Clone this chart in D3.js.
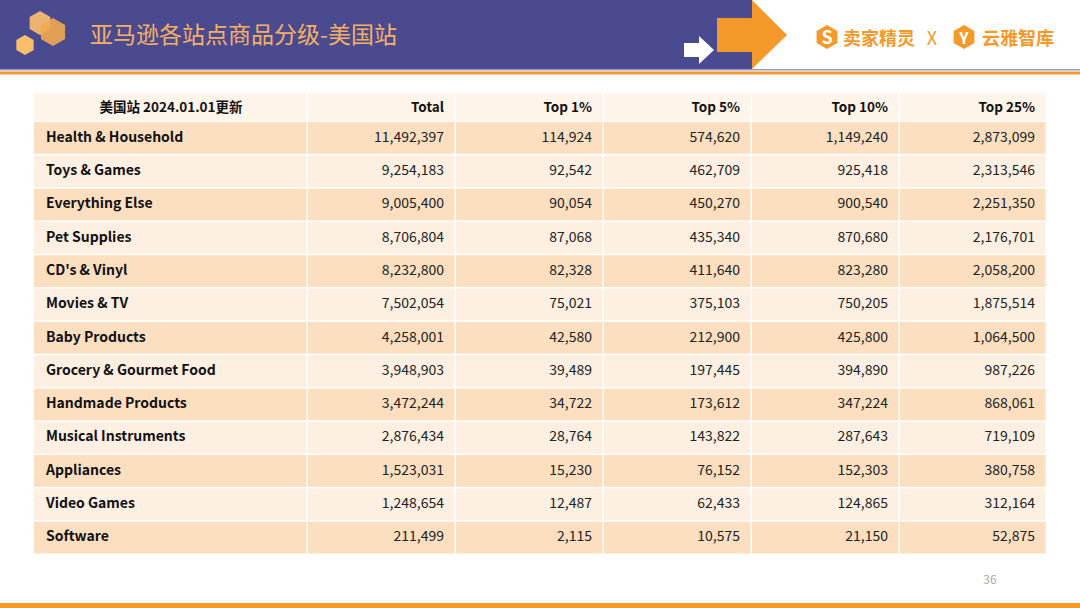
<!DOCTYPE html>
<html><head><meta charset="utf-8">
<script src="https://cdn.jsdelivr.net/npm/d3@7"></script>
<style>body{margin:0;background:#fff}svg{display:block;font-family:"Noto Sans CJK SC","Noto Sans",sans-serif}</style>
</head><body><svg id="c" width="1080" height="608"></svg>
<script>
const title = "亚马逊各站点商品分级-美国站";
const headers = ["美国站 2024.01.01更新","Total","Top 1%","Top 5%","Top 10%","Top 25%"];
const categories = ["Health & Household","Toys & Games","Everything Else","Pet Supplies","CD's & Vinyl","Movies & TV","Baby Products","Grocery & Gourmet Food","Handmade Products","Musical Instruments","Appliances","Video Games","Software"];
const total = [11492397,9254183,9005400,8706804,8232800,7502054,4258001,3948903,3472244,2876434,1523031,1248654,211499];
const top1 = [114924,92542,90054,87068,82328,75021,42580,39489,34722,28764,15230,12487,2115];
const top5 = [574620,462709,450270,435340,411640,375103,212900,197445,173612,143822,76152,62433,10575];
const top10 = [1149240,925418,900540,870680,823280,750205,425800,394890,347224,287643,152303,124865,21150];
const top25 = [2873099,2313546,2251350,2176701,2058200,1875514,1064500,987226,868061,719109,380758,312164,52875];
const cols = [total, top1, top5, top10, top25];

const svg = d3.select("#c");
const purple = "#4a4a90", orange = "#f39a2b";
svg.append("rect").attr("x",0).attr("y",0).attr("width",752).attr("height",69).attr("fill",purple);
svg.append("path").attr("d","M717,18 L752,18 L752,0 L787,35 L752,69 L752,52 L717,52 Z").attr("fill",orange);
svg.append("path").attr("d","M684,43 L699,43 L699,36 L714,50 L699,64 L699,57 L684,57 Z").attr("fill","#fff");
svg.append("rect").attr("x",0).attr("y",69).attr("width",1080).attr("height",1.5).attr("fill","#9a9ad0");
svg.append("rect").attr("x",0).attr("y",71.5).attr("width",1080).attr("height",3).attr("fill",orange);
svg.append("rect").attr("x",0).attr("y",603).attr("width",1080).attr("height",5).attr("fill",orange);
function hex(cx,cy,r,fill,op){const p=d3.range(6).map(i=>{const a=Math.PI/3*i+Math.PI/6;return [cx+r*Math.cos(a),cy+r*Math.sin(a)];});
 svg.append("path").attr("d","M"+p.join("L")+"Z").attr("fill",fill).attr("opacity",op);}
hex(40,23,12,"#f6b870",0.95);hex(53,32,14,"#f2a94f",0.9);hex(25,45,10,"#fbbf6c",1);
svg.append("text").attr("x",90).attr("y",43).attr("fill","#f7b062").attr("font-size",23).text(title);
hex(827,37,12,orange,1);
svg.append("text").attr("x",827).attr("y",44).attr("text-anchor","middle").attr("fill","#fff").attr("font-size",18).attr("font-weight","bold").text("S");
svg.append("text").attr("x",843).attr("y",45).attr("fill",orange).attr("font-size",18).attr("font-weight","bold").text("卖家精灵");
svg.append("text").attr("x",932).attr("y",45).attr("text-anchor","middle").attr("fill",orange).attr("font-size",18).text("X");
hex(964,37,12,orange,1);
svg.append("text").attr("x",964).attr("y",44).attr("text-anchor","middle").attr("fill","#fff").attr("font-size",16).attr("font-weight","bold").text("Y");
svg.append("text").attr("x",982).attr("y",45).attr("fill",orange).attr("font-size",18).attr("font-weight","bold").text("云雅智库");
const colX = [34,308,456,604,752,900,1047];
const y = d3.scaleBand().domain(d3.range(categories.length)).range([122,555]);
const fmt = d3.format(",");
for(let c=0;c<6;c++){
  svg.append("rect").attr("x",colX[c]).attr("y",93).attr("width",colX[c+1]-colX[c]-1.5).attr("height",28).attr("fill","#fdf4ea");
  svg.append("text").attr("x",c===0?(colX[0]+colX[1])/2:colX[c+1]-12).attr("y",112).attr("text-anchor",c===0?"middle":"end")
    .attr("font-size",13.5).attr("font-weight","bold").attr("fill","#111").text(headers[c]);
}
categories.forEach((cat,i)=>{
  const fill = i%2===0?"#fbdfc0":"#fdf0e2";
  for(let c=0;c<6;c++){
    svg.append("rect").attr("x",colX[c]).attr("y",y(i)).attr("width",colX[c+1]-colX[c]-1.5).attr("height",y.bandwidth()-1.5).attr("fill",fill);
  }
  const ty = y(i)+y.bandwidth()/2+3;
  svg.append("text").attr("x",46).attr("y",ty).attr("font-size",14).attr("font-weight","bold").attr("fill","#111").text(cat);
  cols.forEach((arr,c)=>{
    svg.append("text").attr("x",colX[c+2]-12).attr("y",ty).attr("text-anchor","end").attr("font-size",14).attr("fill","#222").text(fmt(arr[i]));
  });
});
svg.append("text").attr("x",990).attr("y",584).attr("text-anchor","middle").attr("font-size",12).attr("fill","#aaa").text("36");
</script></body></html>
